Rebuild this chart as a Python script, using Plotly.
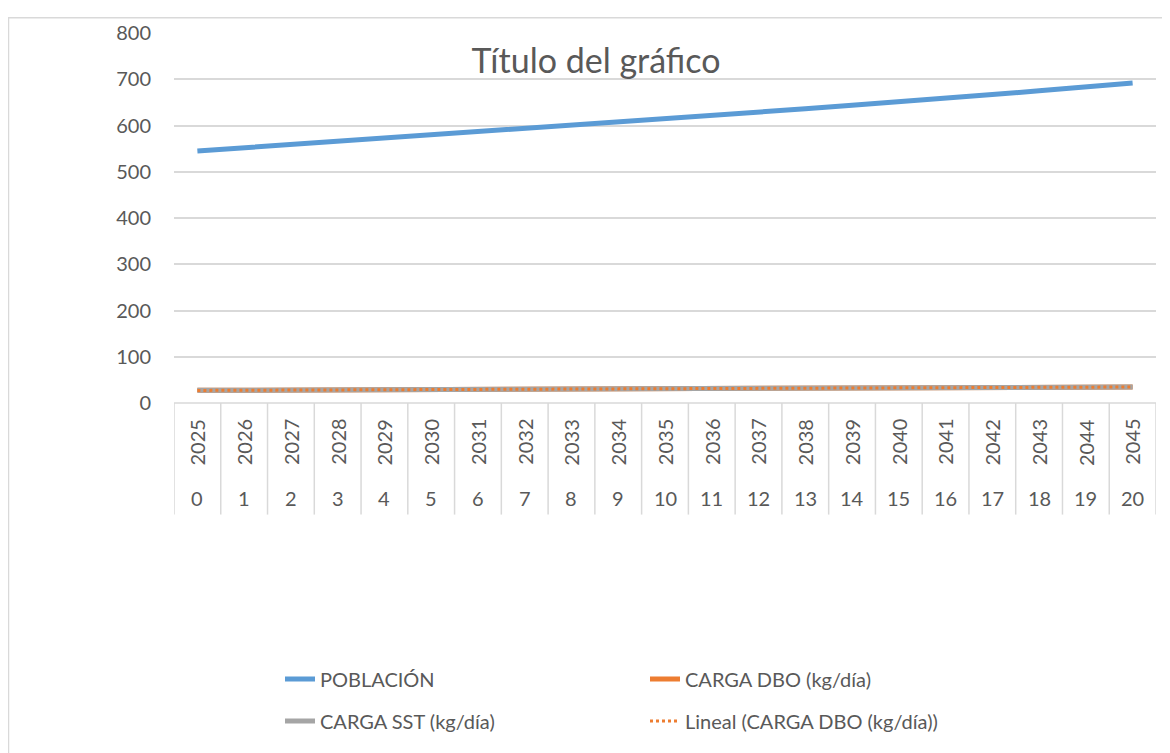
import plotly.graph_objects as go

years = [2025, 2026, 2027, 2028, 2029, 2030, 2031, 2032, 2033, 2034, 2035,
         2036, 2037, 2038, 2039, 2040, 2041, 2042, 2043, 2044, 2045]
periods = list(range(21))

poblacion = [545, 552, 558, 565, 572, 578, 585, 592, 599, 606, 614,
             621, 628, 636, 644, 651, 659, 667, 675, 684, 692]
carga_dbo = [27.3, 27.6, 27.9, 28.3, 28.6, 28.9, 29.3, 29.6, 30.0, 30.3, 30.7,
             31.0, 31.4, 31.8, 32.2, 32.6, 32.9, 33.4, 33.8, 34.2, 34.6]
carga_sst = [27.3, 27.6, 27.9, 28.3, 28.6, 28.9, 29.3, 29.6, 30.0, 30.3, 30.7,
             31.0, 31.4, 31.8, 32.2, 32.6, 32.9, 33.4, 33.8, 34.2, 34.6]
trend_x = [0, 20]
trend_dbo = [27.2, 34.6]

y_ticks = [0, 100, 200, 300, 400, 500, 600, 700, 800]

FONT = "Lato"
GRAY_TXT = "#595959"
GRID = "#D9D9D9"

OFF = 8  # page body margin
W, H = 1170 - OFF, 753 - OFF
PL, PR, PT, PB = 174, 1156, 25, 403   # plot area in screen pixels
L, T = PL - OFF, PT - OFF
R, B = W - (PR - OFF), H - (PB - OFF)
pw, ph = PR - PL, PB - PT

def py(pix):
    return (PB - pix) / ph

def px(pix):
    return (pix - PL) / pw

fig = go.Figure()
fig.add_trace(go.Scatter(x=periods, y=poblacion, mode="lines", name="POBLACIÓN",
                         line=dict(color="#5B9BD5", width=5), legend="legend"))
fig.add_trace(go.Scatter(x=periods, y=carga_dbo, mode="lines", name="CARGA DBO (kg/día)",
                         line=dict(color="#ED7D31", width=5), legend="legend"))
fig.add_trace(go.Scatter(x=periods, y=carga_sst, mode="lines", name="CARGA SST (kg/día)",
                         line=dict(color="#A5A5A5", width=5), legend="legend2"))
fig.add_trace(go.Scatter(x=trend_x, y=trend_dbo, mode="lines",
                         name="Lineal (CARGA DBO (kg/día))",
                         line=dict(color="#ED7D31", width=3, dash="dot"), legend="legend2"))

annotations = []
for i, yr in enumerate(years):
    annotations.append(dict(x=periods[i], y=py(443), xref="x", yref="paper",
                            text=str(yr), textangle=-90, showarrow=False,
                            font=dict(family=FONT, size=20, color=GRAY_TXT),
                            xanchor="center", yanchor="middle"))
    annotations.append(dict(x=periods[i], y=py(500), xref="x", yref="paper",
                            text=str(periods[i]), showarrow=False,
                            font=dict(family=FONT, size=20, color=GRAY_TXT),
                            xanchor="center", yanchor="middle"))

shapes = []
for i in range(len(periods) + 1):
    shapes.append(dict(type="line", xref="x", yref="paper", x0=i - 0.5, x1=i - 0.5,
                       y0=0, y1=py(517), line=dict(color=GRID, width=1.5)))
shapes.append(dict(type="line", xref="paper", yref="paper", x0=0, x1=1, y0=0, y1=0,
                   line=dict(color=GRID, width=1.5)))
# chart border
shapes.append(dict(type="rect", xref="paper", yref="paper",
                   x0=px(8.5), x1=px(1190), y0=py(9.5), y1=py(790),
                   line=dict(color=GRID, width=1.5), fillcolor="rgba(0,0,0,0)"))

fig.update_layout(
    width=W, height=H,
    margin=dict(l=L, r=R, t=T, b=B),
    paper_bgcolor="white", plot_bgcolor="white",
    title=dict(text="Título del gráfico", xref="paper", x=px(596), xanchor="center",
               yref="paper", y=py(54), yanchor="middle",
               font=dict(family=FONT, size=34, color=GRAY_TXT)),
    xaxis=dict(range=[-0.5, 20.5], showticklabels=False, showgrid=False,
               zeroline=False, showline=False, ticks=""),
    yaxis=dict(range=[0, 800], tickvals=y_ticks, showgrid=True, gridcolor=GRID,
               gridwidth=1.5, zeroline=False, showline=False, ticks="",
               ticklabelstandoff=22,
               tickfont=dict(family=FONT, size=20, color=GRAY_TXT)),
    legend=dict(orientation="h", x=px(280), y=py(685), xanchor="left", yanchor="middle",
                entrywidth=320, entrywidthmode="pixels",
                font=dict(family=FONT, size=20, color=GRAY_TXT), bgcolor="rgba(0,0,0,0)"),
    legend2=dict(orientation="h", x=px(280), y=py(728), xanchor="left", yanchor="middle",
                 entrywidth=320, entrywidthmode="pixels",
                 font=dict(family=FONT, size=20, color=GRAY_TXT), bgcolor="rgba(0,0,0,0)"),
    annotations=annotations,
    shapes=shapes,
    showlegend=True,
)

fig.write_html("out.html")
